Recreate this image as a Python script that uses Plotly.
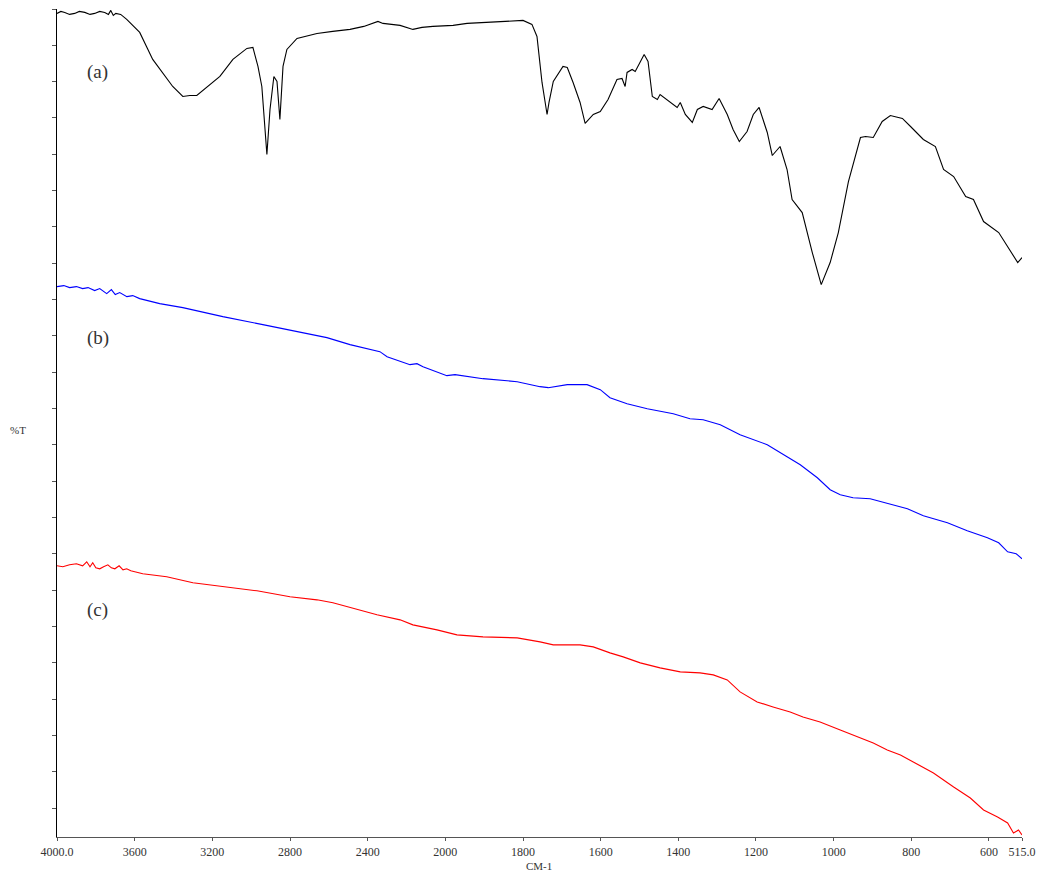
import plotly.graph_objects as go

# ---- data (wavenumber in cm-1, %T in arbitrary transmittance units) ----
wn_a = [4000, 3980, 3960, 3935, 3909, 3885, 3857, 3830, 3806, 3780, 3754, 3735, 3723, 3710, 3697,
        3672, 3641, 3574, 3507, 3445, 3404, 3352,
        3316, 3280, 3228, 3161, 3094, 3022, 2991, 2965, 2945, 2919, 2903, 2883, 2867, 2852, 2836,
        2816, 2764, 2661, 2580, 2491, 2420, 2347, 2321, 2280, 2233, 2167, 2120, 2064, 1980, 1944,
        1900, 1859, 1800, 1777, 1764, 1751,
        1738, 1733, 1722, 1697, 1686, 1671, 1653, 1640, 1619, 1601, 1581, 1558, 1545, 1537, 1532,
        1519, 1511, 1488, 1478, 1467, 1454, 1447, 1413, 1403, 1395, 1382, 1364, 1351, 1336, 1313,
        1295, 1274, 1259, 1243, 1223, 1207, 1192, 1171, 1158, 1138, 1120, 1107, 1081, 1055, 1032,
        1009, 988, 962, 931, 918, 898, 875, 854, 823, 802, 769, 738, 717, 691, 660,
        640, 614, 575, 552, 526, 515]
t_a = [82.3, 82.5, 82.4, 82.2, 82.3, 82.5, 82.4, 82.2, 82.3, 82.5, 82.4, 82.2, 82.6, 82.1, 82.3,
       82.2, 81.7, 80.4, 77.7, 76.0, 75.0, 74.0,
       74.1, 74.1, 74.9, 76.0, 77.7, 78.8, 78.9, 77.0, 75.0, 68.2, 72.7, 76.0, 75.5, 71.7, 77.0,
       78.7, 79.8, 80.3, 80.5, 80.7, 81.0, 81.5, 81.3, 81.2, 81.1, 80.7, 80.9, 81.0, 81.1, 81.3,
       81.4, 81.5, 81.6, 81.2, 80.0, 75.4,
       72.2, 73.4, 75.5, 77.0, 76.9, 75.4, 73.4, 71.3, 72.2, 72.5, 73.7, 75.7, 75.8, 75.0, 76.4,
       76.7, 76.5, 78.2, 77.5, 74.0, 73.7, 74.2, 73.2, 72.9, 73.4, 72.2, 71.4, 72.7, 73.0, 72.7,
       73.8, 72.2, 70.7, 69.5, 70.5, 72.2, 72.9, 70.4, 68.1, 69.0, 66.7, 63.7, 62.4, 58.4, 55.2,
       57.4, 60.4, 65.5, 69.9, 70.0, 69.9, 71.5, 72.1, 71.8, 71.0, 69.7, 69.0, 66.7, 66.0, 64.0,
       63.7, 61.5, 60.4, 59.0, 57.4, 57.9]

wn_b = [4000, 3965, 3935, 3900, 3868, 3840, 3806, 3780, 3744, 3720, 3700, 3677, 3640, 3610, 3574,
        3471, 3352, 3146, 2940, 2734, 2610, 2491, 2362,
        2337, 2300, 2182, 2146, 2115, 1996, 1975, 1903, 1815, 1756, 1735, 1686, 1635, 1601, 1576,
        1532, 1480, 1413, 1370, 1336, 1292, 1241, 1171, 1120, 1086, 1042, 1009, 983, 950, 906,
        846, 810, 769, 707, 656, 604, 575, 552, 530, 515]
t_b = [55.0, 55.1, 54.9, 55.0, 54.8, 54.9, 54.6, 54.8, 54.3, 54.7, 54.2, 54.4, 54.0, 54.1, 53.8,
       53.3, 52.9, 52.0, 51.2, 50.4, 49.9, 49.2, 48.6,
       48.5, 48.0, 47.2, 47.3, 47.0, 46.1, 46.2, 45.8, 45.5, 45.0, 44.9, 45.2, 45.2, 44.7, 43.9,
       43.3, 42.8, 42.3, 41.8, 41.7, 41.2, 40.2, 39.2, 38.0, 37.2, 35.9, 34.7, 34.2, 33.9, 33.8,
       33.2, 32.8, 32.1, 31.4, 30.6, 29.9, 29.4, 28.5, 28.3, 27.8]

wn_c = [4000, 3970, 3935, 3900, 3868, 3847, 3830, 3816, 3800, 3780, 3760, 3738, 3720, 3702, 3680,
        3660, 3641, 3620, 3558, 3435, 3300, 3146, 2970, 2800,
        2661, 2579, 2440, 2352, 2233, 2167, 2043, 1970, 1903, 1815, 1756, 1722, 1653, 1619, 1576,
        1542, 1498, 1447, 1395, 1344, 1310, 1274, 1241, 1197, 1156, 1112, 1079, 1035, 983, 931,
        898, 862, 828, 795, 743, 691, 648, 614, 578, 552, 537, 524, 515]
t_c = [27.1, 27.0, 27.2, 27.3, 27.1, 27.5, 27.0, 27.4, 26.9, 26.8, 27.0, 27.2, 26.9, 26.8, 27.1,
       26.7, 26.8, 26.6, 26.3, 26.0, 25.4, 25.0, 24.6, 24.0,
       23.7, 23.4, 22.7, 22.2, 21.7, 21.2, 20.7, 20.2, 20.0, 19.9, 19.5, 19.2, 19.2, 19.0, 18.4,
       18.0, 17.4, 16.9, 16.5, 16.4, 16.2, 15.7, 14.5, 13.5, 13.0, 12.5, 12.0, 11.5, 10.7, 9.9,
       9.4, 8.7, 8.2, 7.5, 6.4, 5.0, 3.9, 2.7, 2.0, 1.4, 0.4, 0.7, 0.2]

x_ticks = [4000, 3600, 3200, 2800, 2400, 2000, 1800, 1600, 1400, 1200, 1000, 800, 600, 515]
x_tick_labels = ["4000.0", "3600", "3200", "2800", "2400", "2000", "1800", "1600", "1400",
                 "1200", "1000", "800", "600", "515.0"]
labels = ["(a)", "(b)", "(c)"]
label_t = [76.4, 49.9, 22.7]
label_wn = 3790


# FTIR instrument axis: scale compressed by 2 above 2000 cm-1
def u(w):
    return w if w <= 2000 else 2000 + (w - 2000) / 2.0


Y_TOP = 82.74
TICK_STEP = 3.63
SERIF = "Liberation Serif"
PLOT_W = 965.0
PLOT_H = 828.0

fig = go.Figure()
for wn, t, col in [(wn_a, t_a, "#000000"), (wn_b, t_b, "#0000ff"), (wn_c, t_c, "#ff0000")]:
    fig.add_trace(go.Scatter(x=[u(w) for w in wn], y=t, mode="lines",
                             line=dict(color=col, width=1.1), showlegend=False,
                             hoverinfo="skip"))

for lab, yv in zip(labels, label_t):
    fig.add_annotation(x=u(label_wn), y=yv, xref="x", yref="y", text=lab, showarrow=False,
                       font=dict(family=SERIF, size=19, color="#333333"))

fig.add_annotation(x=-39 / PLOT_W, y=0.491, xref="paper", yref="paper", text="%T",
                   showarrow=False, xanchor="center", yanchor="middle",
                   font=dict(family=SERIF, size=11, color="#333333"))
fig.add_annotation(x=0.4995, y=-29 / PLOT_H, xref="paper", yref="paper", text="CM-1",
                   showarrow=False, xanchor="center", yanchor="middle",
                   font=dict(family=SERIF, size=11, color="#333333"))

fig.update_layout(
    width=1039, height=873,
    margin=dict(l=57, r=17, t=9, b=36, autoexpand=False),
    plot_bgcolor="white", paper_bgcolor="white",
    font=dict(family=SERIF, size=12, color="#333333"),
    xaxis=dict(range=[u(4000), u(515)], tickmode="array",
               tickvals=[u(w) for w in x_ticks], ticktext=x_tick_labels,
               showgrid=False, zeroline=False, showline=True, linecolor="#555555",
               linewidth=1.3, ticks="outside", ticklen=3, tickcolor="#555555",
               automargin=False,
               tickfont=dict(family=SERIF, size=12, color="#333333")),
    yaxis=dict(range=[0, Y_TOP], tickmode="array",
               tickvals=[Y_TOP - TICK_STEP * k for k in range(23)],
               ticktext=["" for _ in range(23)], automargin=False,
               showgrid=False, zeroline=False, showline=True, linecolor="#000000",
               linewidth=1.3, ticks="outside", ticklen=4, tickcolor="#555555"),
)

# remove the default page margin so the figure fills the window exactly
fig.write_html("out.html", config={"displayModeBar": False},
               post_script="document.body.style.margin='0';"
                           "document.body.style.overflow='hidden';")
